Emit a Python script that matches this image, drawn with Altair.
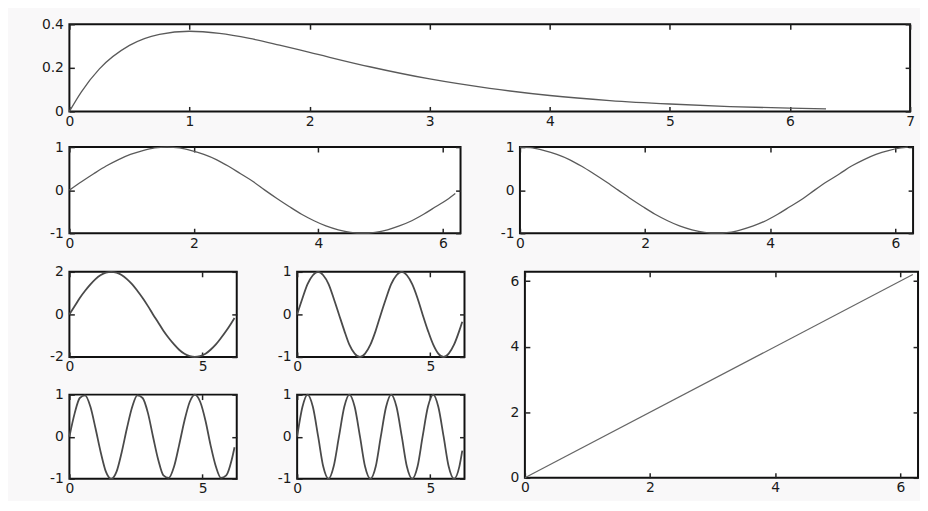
import altair as alt
import pandas as pd

# ---- data ----
# top panel: decaying curve
XE = [0, 0.1, 0.25, 0.5, 0.75, 1, 1.25, 1.5, 1.75, 2, 2.5, 3, 3.5, 4, 4.5, 5, 5.5, 6, 6.3]
YE = [0, 0.090, 0.195, 0.303, 0.354, 0.368, 0.358, 0.335, 0.304, 0.271, 0.205, 0.149,
      0.106, 0.073, 0.050, 0.034, 0.022, 0.015, 0.012]

# common x grid for the periodic panels
XG = [0.00, 0.20, 0.39, 0.59, 0.79, 0.98, 1.18, 1.37, 1.57, 1.77, 1.96, 2.16, 2.36, 2.55,
      2.75, 2.95, 3.14, 3.34, 3.53, 3.73, 3.93, 4.12, 4.32, 4.52, 4.71, 4.91, 5.11, 5.30,
      5.50, 5.69, 5.89, 6.09, 6.20]

SIN1 = [0, .20, .38, .56, .71, .83, .92, .98, 1, .98, .92, .83, .71, .56, .38, .20, 0,
        -.20, -.38, -.56, -.71, -.83, -.92, -.98, -1, -.98, -.92, -.83, -.71, -.56, -.38, -.20, -.08]
COS1 = [1, .98, .92, .83, .71, .56, .38, .20, 0, -.20, -.38, -.56, -.71, -.83, -.92, -.98, -1,
        -.98, -.92, -.83, -.71, -.56, -.38, -.20, 0, .20, .38, .56, .71, .83, .92, .98, 1.0]
SIN_A2 = [0, .39, .77, 1.11, 1.41, 1.66, 1.85, 1.96, 2, 1.96, 1.85, 1.66, 1.41, 1.11, .77, .39, 0,
          -.39, -.77, -1.11, -1.41, -1.66, -1.85, -1.96, -2, -1.96, -1.85, -1.66, -1.41, -1.11,
          -.77, -.39, -.17]
SIN_F2 = [0, .38, .71, .92, 1, .92, .71, .38, 0, -.38, -.71, -.92, -1, -.92, -.71, -.38, 0,
          .38, .71, .92, 1, .92, .71, .38, 0, -.38, -.71, -.92, -1, -.92, -.71, -.38, -.17]
SIN_F3 = [0, .56, .92, .98, .71, .20, -.38, -.83, -1, -.83, -.38, .20, .71, .98, .92, .56, 0,
          -.56, -.92, -.98, -.71, -.20, .38, .83, 1, .83, .38, -.20, -.71, -.98, -.92, -.56, -.25]
SIN_F4 = [0, .71, 1, .71, 0, -.71, -1, -.71, 0, .71, 1, .71, 0, -.71, -1, -.71, 0,
          .71, 1, .71, 0, -.71, -1, -.71, 0, .71, 1, .71, 0, -.71, -1, -.71, -.33]

# straight line panel
XL = [0, 6.2]
YL = [0, 6.2]

TWO_PI = 6.2832

# tick values
XT_TOP = [0, 1, 2, 3, 4, 5, 6, 7]
YT_TOP = [0, 0.2, 0.4]
XT_MID = [0, 2, 4, 6]
YT_ONE = [-1, 0, 1]
YT_TWO = [-2, 0, 2]
XT_SMALL = [0, 5]
YT_BIG = [0, 2, 4, 6]

FONT = "DejaVu Sans"
TS = 5


def axis_x(values, main):
    if main:
        return alt.Axis(orient="bottom", values=values, labelExpr="'' + datum.value",
                        domain=False, grid=False, tickSize=TS, offset=-TS, labelPadding=3,
                        minExtent=24, maxExtent=24, labelFlush=False, labelOverlap=False)
    return alt.Axis(orient="top", values=values, labels=False, domain=False, grid=False,
                    tickSize=TS, offset=-TS, minExtent=15, maxExtent=15)


def axis_y(values, main):
    if main:
        return alt.Axis(orient="left", values=values, labelExpr="'' + datum.value",
                        domain=False, grid=False, tickSize=TS, offset=-TS, labelPadding=6,
                        minExtent=40, maxExtent=40, labelFlush=False, labelOverlap=False)
    return alt.Axis(orient="right", values=values, labels=False, domain=False, grid=False,
                    tickSize=TS, offset=-TS, minExtent=0, maxExtent=5)


def panel(xs, ys, xdom, ydom, xt, yt, w, h, sw=1.3, color="#5a5a5a", interp="linear"):
    df = pd.DataFrame({"x": xs, "y": ys})
    sx = alt.Scale(domain=xdom, nice=False, zero=False)
    sy = alt.Scale(domain=ydom, nice=False, zero=False)
    main = alt.Chart(df).mark_line(color=color, strokeWidth=sw, interpolate=interp).encode(
        x=alt.X("x:Q", scale=sx, axis=axis_x(xt, True), title=None),
        y=alt.Y("y:Q", scale=sy, axis=axis_y(yt, True), title=None),
    )
    mirror = alt.Chart(df).mark_line(opacity=0).encode(
        x=alt.X("x:Q", scale=sx, axis=axis_x(xt, False), title=None),
        y=alt.Y("y:Q", scale=sy, axis=axis_y(yt, False), title=None),
    )
    return alt.layer(main, mirror).resolve_axis(x="independent", y="independent").properties(
        width=w, height=h)


top = panel(XE, YE, [0, 7], [0, 0.4], XT_TOP, YT_TOP, 849, 88, interp="monotone")
p_sin = panel(XG, SIN1, [0, TWO_PI], [-1, 1], XT_MID, YT_ONE, 395, 87, interp="monotone")
p_cos = panel(XG, COS1, [0, TWO_PI], [-1, 1], XT_MID, YT_ONE, 397, 87, interp="monotone")
p_a = panel(XG, SIN_A2, [0, TWO_PI], [-2, 2], XT_SMALL, YT_TWO, 169, 86, sw=1.8, color="#4a4a4a", interp="monotone")
p_b = panel(XG, SIN_F2, [0, TWO_PI], [-1, 1], XT_SMALL, YT_ONE, 169, 86, sw=1.8, color="#4a4a4a", interp="monotone")
p_c = panel(XG, SIN_F3, [0, TWO_PI], [-1, 1], XT_SMALL, YT_ONE, 169, 85, sw=1.8, color="#4a4a4a", interp="monotone")
p_d = panel(XG, SIN_F4, [0, TWO_PI], [-1, 1], XT_SMALL, YT_ONE, 169, 85, sw=1.8, color="#4a4a4a", interp="monotone")
p_big = panel(XL, YL, [0, TWO_PI], [0, TWO_PI], XT_MID, YT_BIG, 397, 208, sw=1.2, color="#666666")

row2 = alt.hconcat(p_sin, p_cos, spacing=22)
small = alt.vconcat(alt.hconcat(p_a, p_b, spacing=22), alt.hconcat(p_c, p_d, spacing=22), spacing=7)
row3 = alt.hconcat(small, p_big, spacing=22)
lower = alt.vconcat(row2, row3, spacing=8)

chart = alt.vconcat(top, lower, spacing=5).properties(
    padding={"left": 26, "top": 3, "right": 0, "bottom": 0},
    background="#f9f8f9",
).configure_view(
    stroke="#111111", strokeWidth=2, fill="white"
).configure_axis(
    labelFont=FONT, labelFontSize=14, labelColor="#1a1a1a",
    tickColor="#222222", tickWidth=1.5,
)

chart.save("out.html", embed_options={"renderer": "svg", "actions": False})
